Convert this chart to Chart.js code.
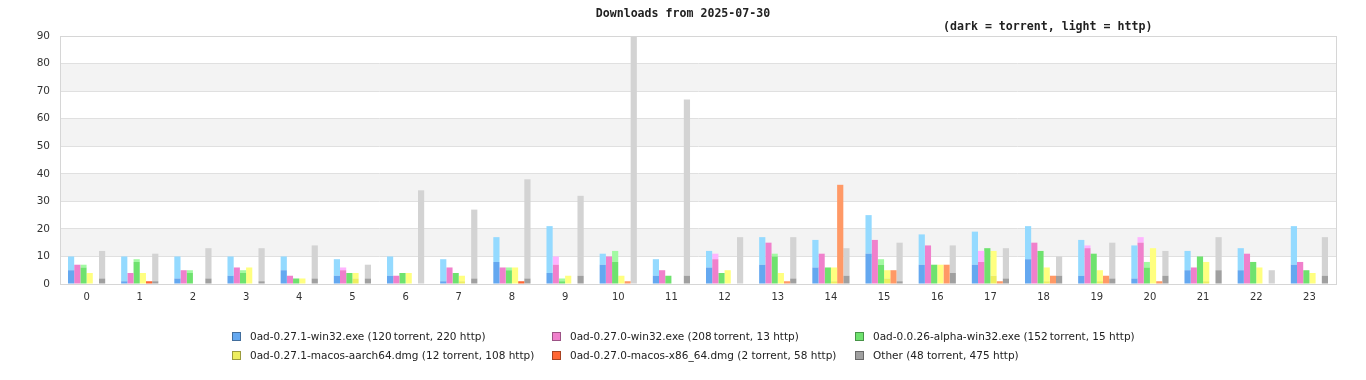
<!DOCTYPE html>
<html><head><meta charset="utf-8">
<script src="https://cdn.jsdelivr.net/npm/chart.js@4/dist/chart.umd.min.js"></script>
<style>
html,body{margin:0;padding:0;background:#fff;}
#wrap{position:relative;width:1366px;height:380px;overflow:hidden;}
canvas{position:absolute;left:0;top:0;}
.t{position:absolute;font-family:"DejaVu Sans Mono",monospace;font-weight:bold;font-size:11.6px;color:#222;white-space:nowrap;}
.lg{position:absolute;font-family:"DejaVu Sans",sans-serif;font-size:10.5px;color:#222;white-space:nowrap;line-height:12px;}
.lg i{display:inline-block;width:7px;height:7px;border:1px solid rgba(0,0,0,0.35);vertical-align:middle;margin-right:9px;position:relative;top:-1px;}
</style></head>
<body><div id="wrap">
<canvas id="c" width="1366" height="380"></canvas>
<div class="t" style="left:0;width:1366px;text-align:center;top:6px;">Downloads from 2025-07-30</div>
<div class="t" style="left:943px;top:19px;">(dark = torrent, light = http)</div>
<div id="legend"></div>
</div>
<script>
const hours = ['0','1','2','3','4','5','6','7','8','9','10','11','12','13','14','15','16','17','18','19','20','21','22','23'];
const yTicks = [0,10,20,30,40,50,60,70,80,90];

const win271Torrent = [5,1,2,3,5,3,3,1,8,4,7,3,6,7,6,11,7,7,9,3,2,5,5,7];
const win271Http    = [5,9,8,7,5,6,7,8,9,17,4,6,6,10,10,14,11,12,12,13,12,7,8,14];
const win270Torrent = [7,4,5,6,3,5,3,6,6,7,10,5,9,15,11,16,14,8,15,13,15,6,11,8];
const win270Http    = [0,0,0,0,0,1,0,0,0,3,0,0,2,0,0,0,0,4,0,1,2,0,0,0];
const alpha26Torrent = [6,8,4,4,2,4,4,4,5,1,8,3,4,10,6,7,7,13,12,11,6,10,8,5];
const alpha26Http    = [1,1,1,1,0,0,0,0,1,1,4,0,0,1,0,2,0,0,0,0,2,0,0,0];
const macArmTorrent = [0,0,0,0,0,2,0,1,0,0,0,0,0,0,1,2,0,3,1,1,0,1,0,0];
const macArmHttp    = [4,4,0,6,2,2,4,2,6,3,3,0,5,4,5,3,7,9,5,4,13,7,6,4];
const macX86Torrent = [0,1,0,0,0,0,0,0,1,0,0,0,0,0,0,0,0,0,0,0,0,0,0,0];
const macX86Http    = [0,0,0,0,0,0,0,0,0,0,1,0,0,1,36,5,7,1,3,3,1,0,0,0];
const otherTorrent = [2,1,2,1,2,2,0,2,2,3,0,3,0,2,3,1,4,2,3,2,3,5,0,3];
const otherHttp    = [10,10,11,12,12,5,34,25,36,29,90,64,17,15,10,14,10,11,7,13,9,12,5,14];

const seriesNames = [
  '0ad-0.27.1-win32.exe (120\u2009torrent, 220 http)',
  '0ad-0.27.0-win32.exe (208\u2009torrent, 13 http)',
  '0ad-0.0.26-alpha-win32.exe (152\u2009torrent, 15 http)',
  '0ad-0.27.1-macos-aarch64.dmg (12 torrent, 108 http)',
  '0ad-0.27.0-macos-x86_64.dmg (2 torrent, 58 http)',
  'Other (48 torrent, 475 http)'
];
const darkColors  = ['#64a8f0','#f080cc','#6ee26e','#eeee5e','#ff6633','#a0a0a0'];
const lightColors = ['#94daff','#ffb4ff','#a2faa2','#ffff80','#ff9966','#d3d3d3'];

const torrentSeries = [win271Torrent, win270Torrent, alpha26Torrent, macArmTorrent, macX86Torrent, otherTorrent];
const httpSeries    = [win271Http, win270Http, alpha26Http, macArmHttp, macX86Http, otherHttp];

const datasets = [];
for (let i = 0; i < 6; i++) {
  datasets.push({label: seriesNames[i] + ' torrent', data: torrentSeries[i], backgroundColor: darkColors[i], stack: 's' + i, borderWidth: 0});
  datasets.push({label: seriesNames[i] + ' http', data: httpSeries[i], backgroundColor: lightColors[i], stack: 's' + i, borderWidth: 0});
}

const bands = {
  id: 'bands',
  beforeDraw(chart) {
    const {ctx, chartArea: a, scales: {y}} = chart;
    ctx.save();
    ctx.fillStyle = '#f3f3f3';
    for (let v = 10; v < 90; v += 20) {
      const top = y.getPixelForValue(v + 10), bot = y.getPixelForValue(v);
      ctx.fillRect(a.left, top, a.right - a.left, bot - top);
    }
    ctx.restore();
  },
  afterDraw(chart) {
    const {ctx, chartArea: a} = chart;
    ctx.save();
    ctx.strokeStyle = '#d6d6d6';
    ctx.lineWidth = 1;
    ctx.strokeRect(Math.round(a.left) + 0.5, Math.round(a.top) + 0.5, Math.round(a.right - a.left), Math.round(a.bottom - a.top));
    ctx.restore();
  }
};

new Chart(document.getElementById('c'), {
  type: 'bar',
  data: {labels: hours, datasets},
  options: {
    responsive: false,
    animation: false,
    layout: {padding: {top: 36, right: 30, bottom: 76, left: 0}},
    plugins: {legend: {display: false}, tooltip: {enabled: false}, title: {display: false}},
    datasets: {bar: {categoryPercentage: 0.7, barPercentage: 1.0}},
    scales: {
      x: {
        stacked: true,
        grid: {display: false, drawTicks: false},
        border: {color: '#d6d6d6'},
        ticks: {color: '#333', font: {family: 'DejaVu Sans', size: 10}, padding: 7, maxRotation: 0, autoSkip: false},
        afterFit(s) { s.height = 20; }
      },
      y: {
        stacked: true,
        min: 0, max: 90,
        afterBuildTicks(s) { s.ticks = yTicks.map(v => ({value: v})); },
        grid: {color: '#e0e0e0', drawTicks: false},
        border: {color: '#d6d6d6'},
        ticks: {color: '#333', font: {family: 'DejaVu Sans', size: 10.5}, padding: 10},
        afterFit(s) { s.width = 60; }
      }
    }
  },
  plugins: [bands]
});

const legendPos = [[232,330],[552,330],[855,330],[232,349],[552,349],[855,349]];
const lg = document.getElementById('legend');
for (let i = 0; i < 6; i++) {
  const d = document.createElement('div');
  d.className = 'lg';
  d.style.left = legendPos[i][0] + 'px';
  d.style.top = legendPos[i][1] + 'px';
  d.innerHTML = '<i style="background:' + darkColors[i] + '"></i>' + seriesNames[i];
  lg.appendChild(d);
}
</script>
</body></html>
